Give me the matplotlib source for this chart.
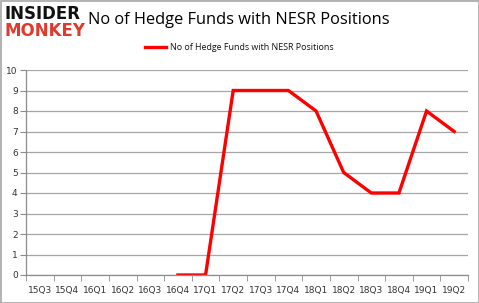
import matplotlib
matplotlib.use("Agg")
import matplotlib.pyplot as plt
import numpy as np

categories = ["15Q3","15Q4","16Q1","16Q2","16Q3","16Q4","17Q1","17Q2","17Q3","17Q4",
              "18Q1","18Q2","18Q3","18Q4","19Q1","19Q2"]
values = [None, None, None, None, None, 0, 0, 9, 9, 9, 8, 5, 4, 4, 8, 7]
series_name = "No of Hedge Funds with NESR Positions"
title = "No of Hedge Funds with NESR Positions"

W, H = 479, 303
fig = plt.figure(figsize=(W/100, H/100), dpi=100)
fig.patch.set_facecolor("white")

# border
fig.add_artist(plt.Rectangle((0.5/W, 0.5/H), 1-1/W, 1-1/H, transform=fig.transFigure,
                             fill=False, edgecolor="#a6a6a6", linewidth=1.2))

ax = fig.add_axes([26/W, (H-275)/H, (468-26)/W, (275-70)/H])
x = np.arange(len(categories))
xs = [i for i, v in enumerate(values) if v is not None]
ys = [v for v in values if v is not None]
ax.plot(xs, ys, color="#ff0000", linewidth=2.4, solid_joinstyle="miter", label=series_name)

ax.set_xlim(-0.5, len(categories)-0.5)
ax.set_ylim(0, 10)
ax.set_yticks(range(0, 11))
ax.set_xticks(x)
ax.set_xticklabels(categories)
ax.set_xticks(np.arange(-0.5, len(categories), 1), minor=True)
ax.tick_params(axis="x", which="major", length=0, pad=8, labelsize=6.5, colors="#333333")
ax.tick_params(axis="x", which="minor", length=4, color="#8c8c8c")
ax.tick_params(axis="y", length=4, color="#8c8c8c", labelsize=6.5, colors="#333333", pad=2)
ax.grid(axis="y", color="#a6a6a6", linewidth=0.9)
ax.set_axisbelow(True)
for s in ["top", "right"]:
    ax.spines[s].set_visible(False)
for s in ["left", "bottom"]:
    ax.spines[s].set_color("#8c8c8c")
    ax.spines[s].set_linewidth(0.9)

# logo
fig.text(4/W, 1-19/H, "INSIDER", fontsize=12, fontweight="bold", color="#111111",
         family="DejaVu Sans", va="baseline", ha="left")
fig.text(4/W, 1-36/H, "MONKEY", fontsize=12, fontweight="bold", color="#e03a2f",
         family="DejaVu Sans", va="baseline", ha="left")

fig.text(88/W, 1-20/H, title, fontsize=11.8, color="#000000", family="Open Sans",
         va="center", ha="left")

# legend
fig.add_artist(plt.Line2D([145/W, 166/W], [1-47/H, 1-47/H], color="#ff0000", linewidth=2.4,
                          transform=fig.transFigure))
fig.text(170/W, 1-47/H, series_name, fontsize=6.4, color="#111111", family="Open Sans",
         va="center", ha="left")

fig.savefig("out.png", dpi=100)
